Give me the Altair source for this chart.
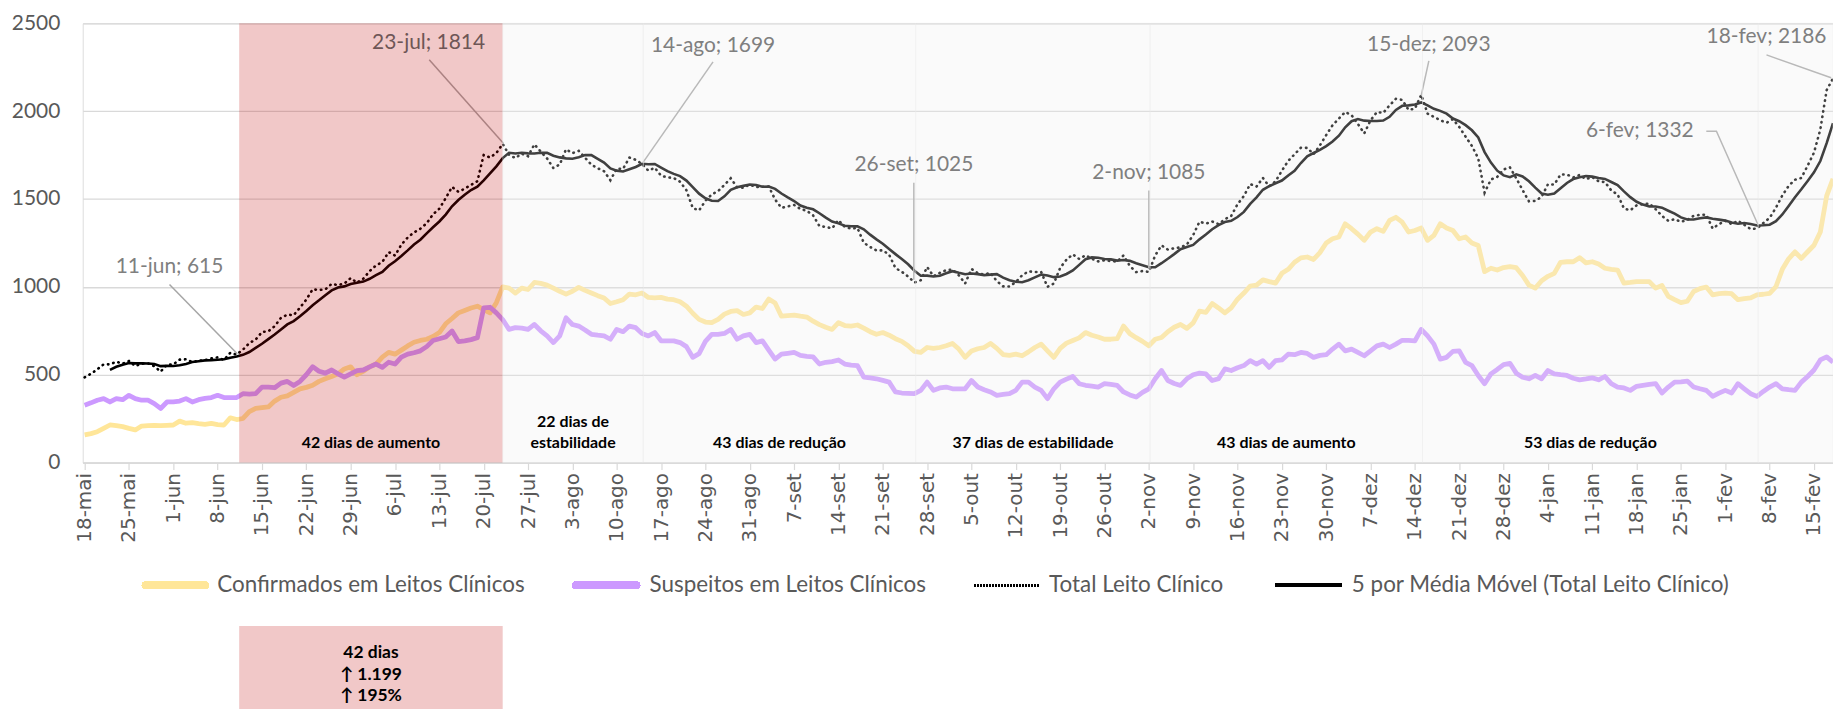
import altair as alt
import pandas as pd

# ---------------- data ----------------
TICK_LABELS = ["18-mai", "25-mai", "1-jun", "8-jun", "15-jun", "22-jun", "29-jun", "6-jul", "13-jul", "20-jul",
               "27-jul", "3-ago", "10-ago", "17-ago", "24-ago", "31-ago", "7-set", "14-set", "21-set", "28-set",
               "5-out", "12-out", "19-out", "26-out", "2-nov", "9-nov", "16-nov", "23-nov", "30-nov", "7-dez",
               "14-dez", "21-dez", "28-dez", "4-jan", "11-jan", "18-jan", "25-jan", "1-fev", "8-fev", "15-fev"]

CONFIRMADOS = [
    158, 165, 176, 195, 214, 210, 205, 195, 186, 208,
    210, 212, 210, 212, 214, 236, 224, 227, 222, 218,
    223, 216, 214, 255, 245, 251, 290, 308, 313, 317,
    350, 372, 380, 400, 420, 428, 440, 462, 477, 490,
    505, 533, 545, 500, 520, 545, 561, 600, 627, 617,
    640, 664, 685, 695, 702, 718, 740, 790, 820, 852,
    866, 880, 890, 871, 852, 910, 1000, 993, 965, 993,
    985, 1025, 1020, 1010, 993, 975, 959, 975, 997, 980,
    965, 950, 937, 905, 915, 927, 959, 955, 965, 940,
    938, 940, 930, 927, 915, 890, 850, 815, 800, 796,
    815, 845, 860, 865, 843, 852, 885, 877, 931, 908,
    833, 836, 839, 833, 828, 805, 785, 770, 758, 796,
    780, 777, 783, 765, 745, 730, 740, 725, 705, 690,
    665, 633, 627, 655, 650, 655, 665, 678, 646, 599,
    635, 648, 655, 678, 650, 615, 610, 617, 608, 630,
    655, 674, 636, 599, 650, 680, 695, 710, 740, 725,
    715, 702, 702, 705, 777, 734, 711, 690, 665, 702,
    712, 745, 770, 786, 764, 795, 862, 855, 905, 880,
    852, 880, 930, 965, 1005, 1010, 1040, 1030, 1021, 1077,
    1100, 1140, 1165, 1170, 1156, 1195, 1250, 1274, 1284, 1359,
    1331, 1300, 1265, 1312, 1331, 1316, 1378, 1396, 1368, 1312,
    1321, 1335, 1265, 1293, 1359, 1335, 1321, 1274, 1284, 1250,
    1235, 1087, 1106, 1096, 1110, 1115, 1109, 1065, 1010, 993,
    1035, 1060, 1077, 1140, 1143, 1143, 1166, 1137, 1143, 1130,
    1106, 1100, 1096, 1021, 1025, 1030, 1030, 1030, 993, 1008,
    946, 927, 910, 918, 974, 990, 999, 955, 962, 965,
    961, 927, 933, 937, 955, 958, 963, 1002, 1100, 1160,
    1199, 1162, 1200, 1237, 1312, 1518, 1615]

SUSPEITOS = [
    327, 340, 355, 364, 345, 364, 358, 383, 364, 355,
    355, 336, 308, 345, 345, 350, 364, 345, 358, 365,
    370, 383, 370, 370, 370, 392, 390, 392, 430, 430,
    426, 452, 462, 439, 462, 500, 546, 520, 509, 527,
    505, 486, 505, 524, 527, 545, 561, 542, 571, 561,
    600, 617, 625, 636, 660, 695, 705, 715, 749, 689,
    693, 700, 711, 880, 884, 852, 814, 758, 768, 765,
    758, 786, 750, 721, 683, 721, 824, 786, 777, 755,
    730, 725, 721, 702, 758, 745, 777, 768, 734, 721,
    740, 693, 693, 693, 683, 660, 599, 620, 690, 730,
    730, 735, 758, 702, 721, 730, 683, 693, 640, 589,
    617, 622, 627, 610, 605, 602, 561, 571, 575, 584,
    561, 555, 552, 486, 482, 477, 468, 458, 402, 396,
    394, 392, 411, 458, 411, 425, 430, 420, 420, 420,
    467, 430, 415, 402, 383, 388, 392, 411, 458, 458,
    430, 411, 364, 420, 458, 475, 490, 449, 440, 435,
    430, 449, 445, 439, 402, 385, 373, 400, 420, 477,
    524, 467, 450, 439, 477, 500, 509, 505, 467, 477,
    533, 524, 540, 552, 580, 561, 580, 542, 580, 584,
    617, 614, 627, 621, 599, 610, 614, 646, 674, 636,
    646, 627, 608, 636, 664, 674, 655, 674, 696, 695,
    693, 758, 721, 674, 589, 599, 633, 636, 571, 552,
    496, 449, 505, 530, 558, 565, 509, 486, 477, 496,
    477, 524, 505, 500, 496, 480, 471, 476, 482, 471,
    490, 449, 430, 425, 411, 434, 440, 445, 449, 396,
    430, 458, 460, 464, 430, 420, 411, 377, 395, 411,
    396, 449, 420, 392, 377, 405, 430, 449, 420, 415,
    411, 458, 490, 527, 584, 602, 571]

DAYS = list(range(len(CONFIRMADOS)))

# periods (day index boundaries)
PERIOD_START = [24.4, 66.0, 88.2, 131.2, 168.2, 211.2, 264.2]
PERIOD_END = [66.0, 88.2, 131.2, 168.2, 211.2, 264.2, 276.0]
PERIOD_LABEL = ["42 dias de aumento", "22 dias de\nestabilidade", "43 dias de redução",
                "37 dias de estabilidade", "43 dias de aumento", "53 dias de redução", ""]

# annotations
ANN_LABEL = ["11-jun; 615", "23-jul; 1814", "14-ago; 1699", "26-set; 1025",
             "2-nov; 1085", "15-dez; 2093", "6-fev; 1332", "18-fev; 2186"]
ANN_TEXT_DAY = [13.4, 54.3, 99.2, 130.9, 168.0, 212.2, 245.5, 265.5]
ANN_TEXT_VALUE = [1115, 2390, 2370, 1695, 1650, 2376, 1886, 2420]
ANN_TEXT_COLOR = ["#7f7f7f", "#6e5656", "#7f7f7f", "#7f7f7f", "#7f7f7f", "#7f7f7f", "#7f7f7f", "#7f7f7f"]

LEADER_ID = [0, 0, 1, 1, 2, 2, 3, 3, 4, 4, 5, 5, 6, 6, 6, 7, 7]
LEADER_DAY = [13.4, 24.1, 54.4, 66.1, 99.2, 88.1, 130.9, 130.9, 168.0, 168.0,
              212.2, 211.0, 256.0, 257.6, 264.2, 265.5, 275.7]
LEADER_VALUE = [1014, 619, 2292, 1818, 2280, 1706, 1593, 1041, 1548, 1104,
                2286, 2089, 1886, 1886, 1351, 2320, 2190]

BOX_LINES = ["42 dias", "↑ 1.199", "↑ 195%"]

# ---------------- frames ----------------
df = pd.DataFrame({"day": DAYS, "conf": CONFIRMADOS, "susp": SUSPEITOS})
periods = pd.DataFrame({"start": PERIOD_START, "end": PERIOD_END, "label": PERIOD_LABEL})
periods["mid"] = (periods["start"] + periods["end"]) / 2
periods["nlines"] = [lbl.count("\n") + 1 for lbl in PERIOD_LABEL]
ann = pd.DataFrame({"lx": ANN_TEXT_DAY, "ly": ANN_TEXT_VALUE, "label": ANN_LABEL, "col": ANN_TEXT_COLOR})
leaders = pd.DataFrame({"id": LEADER_ID, "ord": list(range(len(LEADER_ID))),
                        "day": LEADER_DAY, "value": LEADER_VALUE})

TOP = 14          # padding above the plot area
W, H = 1757, 441  # plot area
SHIFT = 19 - 8 - TOP  # keeps the elements below the plot at the same page position
periods["py"] = 432 + SHIFT - 21 * (periods["nlines"] - 1)

XSCALE = alt.Scale(domain=[-0.3, 276], nice=False, zero=False)
YSCALE = alt.Scale(domain=[0, 2500], nice=False)
label_arr = "[" + ",".join("'" + t + "'" for t in TICK_LABELS) + "]"
XAXIS = alt.Axis(values=list(range(0, 274, 7)), labelExpr=label_arr + "[round(datum.value/7)]",
                 labelAngle=270, grid=False, domainColor="#d9d9d9", domainWidth=1.5,
                 tickColor="#d9d9d9", tickSize=7, tickWidth=1.2, labelPadding=3,
                 labelFont="DejaVu Sans", labelFontSize=20, labelColor="#595959", title=None)
YAXIS = alt.Axis(values=[0, 500, 1000, 1500, 2000, 2500], format="d", grid=True, gridColor="#d9d9d9",
                 gridWidth=1.3, domain=False, ticks=False, labelPadding=23, labelFont="Lato",
                 labelFontSize=21, labelColor="#595959", title=None)


def X(f):
    return alt.X(f, type="quantitative", scale=XSCALE, axis=XAXIS)


def Y(f):
    return alt.Y(f, type="quantitative", scale=YSCALE, axis=YAXIS)


base = alt.Chart(df)

conf_line = base.mark_line(color="#FFE699", strokeWidth=4.8, strokeJoin="round").encode(
    x=X("day"), y=Y("conf"))
susp_line = base.mark_line(color="#CC99FF", strokeWidth=4.8, strokeJoin="round").encode(
    x=X("day"), y=Y("susp"))
total_line = base.transform_calculate(total="datum.conf + datum.susp").mark_line(
    color="#000000", strokeWidth=2.6, strokeDash=[0.5, 5], strokeCap="round").encode(
    x=X("day"), y=Y("total:Q"))
ma_line = base.transform_calculate(total="datum.conf + datum.susp").transform_window(
    ma="mean(total)", rn="row_number()", frame=[-4, 0], sort=[alt.SortField("day")]
).transform_filter("datum.rn >= 5").mark_line(color="#000000", strokeWidth=2.6).encode(
    x=X("day"), y=Y("ma:Q"))

leader_lines = alt.Chart(leaders).mark_line(color="#a6a6a6", strokeWidth=1.5).encode(
    x=X("day"), y=Y("value"), detail="id:N", order="ord:Q")

red_overlay = alt.Chart(periods.iloc[[0]]).mark_rect(color="#C00000", opacity=0.215).encode(
    x=X("start"), x2="end", y=alt.value(0), y2=alt.value(H))
gray_overlay = alt.Chart(periods.iloc[1:]).mark_rect(
    fill="#ececec", fillOpacity=0.27, stroke="#ececec", strokeWidth=1, strokeOpacity=0.35).encode(
    x=X("start"), x2="end", y=alt.value(0), y2=alt.value(H))

ann_text = alt.Chart(ann).mark_text(font="Lato", fontSize=21, align="center", baseline="middle").encode(
    x=X("lx"), y=Y("ly"), text="label:N", color=alt.Color("col:N", scale=None))

period_text = alt.Chart(periods).mark_text(
    font="Lato", fontSize=16, fontWeight="bold", color="#000000", align="center",
    baseline="bottom", lineBreak="\n", lineHeight=21).encode(
    x=X("mid"), y=alt.Y("py:Q", scale=None), text="label:N")

# custom legend
LEG_Y = 567 + SHIFT
legend_layers = [
    alt.Chart(df).mark_rule(color="#FFE699", strokeWidth=7, strokeCap="round").encode(
        x=alt.value(63), x2=alt.value(123), y=alt.value(LEG_Y)),
    alt.Chart(df).mark_rule(color="#CC99FF", strokeWidth=7, strokeCap="round").encode(
        x=alt.value(495), x2=alt.value(556), y=alt.value(LEG_Y)),
    alt.Chart(df).mark_rule(color="#000000", strokeWidth=2, strokeDash=[1.2, 1.8]).encode(
        x=alt.value(895), x2=alt.value(961), y=alt.value(LEG_Y)),
    alt.Chart(df).mark_rule(color="#000000", strokeWidth=3.5).encode(
        x=alt.value(1197), x2=alt.value(1264), y=alt.value(LEG_Y)),
]
leg_names = ["Confirmados em Leitos Clínicos", "Suspeitos em Leitos Clínicos",
             "Total Leito Clínico", "5 por Média Móvel (Total Leito Clínico)"]
leg_x = [135, 569, 970, 1274]
for nm, lx in zip(leg_names, leg_x):
    legend_layers.append(
        alt.Chart(pd.DataFrame({"t": [nm]})).mark_text(
            font="Lato", fontSize=22.5, color="#595959", align="left", baseline="middle").encode(
            x=alt.value(lx), y=alt.value(LEG_Y), text="t:N"))

# bottom summary box
box = alt.Chart(periods.iloc[[0]]).mark_rect(color="#C00000", opacity=0.215).encode(
    x=X("start"), x2="end", y=alt.value(608 + SHIFT), y2=alt.value(730))
box_df = pd.DataFrame({"mid": [periods["mid"].iloc[0]] * 3, "t": BOX_LINES,
                       "py": [635 + SHIFT, 657 + SHIFT, 678 + SHIFT]})
box_text = alt.Chart(box_df).mark_text(
    font="Lato", fontSize=17.5, fontWeight="bold", color="#000000", align="center", baseline="middle").encode(
    x=X("mid"), y=alt.Y("py:Q", scale=None), text="t:N")

chart = alt.layer(
    conf_line, susp_line, total_line, ma_line, leader_lines,
    red_overlay, gray_overlay, ann_text, period_text, *legend_layers, box, box_text
).properties(
    width=W, height=H,
    autosize=alt.AutoSizeParams(type="none"),
    padding={"left": 75, "top": TOP, "right": 0, "bottom": 701 - TOP - H},
).configure_view(stroke=None).configure(background="#ffffff")

chart.save("out.html", embed_options={"renderer": "svg", "actions": False})
